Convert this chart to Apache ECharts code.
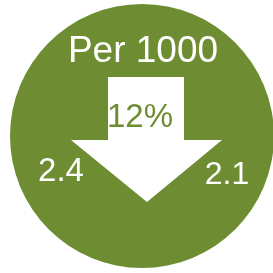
<!DOCTYPE html>
<html>
<head>
<meta charset="utf-8">
<script src="https://cdn.jsdelivr.net/npm/echarts@6/dist/echarts.min.js"></script>
<style>
  html, body { margin: 0; padding: 0; background: #fff; }
  #chart { width: 273px; height: 273px; }
</style>
</head>
<body>
<div id="chart"></div>
<script>
// values shown on the badge
var unitLabel = 'Per 1000';
var changePct = [12];
var rates = [2.4, 2.1];   // before, after

var green = '#6E8D32';
var chart = echarts.init(document.getElementById('chart'));

function label(txt, x, y, size, color) {
    return {
        type: 'text',
        z: 11,
        x: x, y: y,
        style: {
            text: txt, fill: color, align: 'center', verticalAlign: 'middle',
            font: size + 'px "Liberation Sans", Arial, sans-serif'
        }
    };
}

var option = {
    animation: false,
    series: [
        {
            type: 'pie',
            silent: true,
            z: 1,
            center: [142, 136],
            radius: [0, 132],
            label: { show: false },
            itemStyle: { color: green },
            data: [{ value: 1 }]
        }
    ],
    graphic: [
        {
            // down arrow
            type: 'polygon',
            z: 10,
            shape: {
                points: [[108, 77], [184, 77], [184, 140], [222, 140], [147, 202], [71, 140], [108, 140]]
            },
            style: { fill: '#fff' }
        },
        label(unitLabel, 143, 52, 37, '#fff'),
        label(changePct[0] + '%', 140, 118, 33, green),
        label(rates[0].toFixed(1), 61, 172, 33, '#fff'),
        label(rates[1].toFixed(1), 227, 175, 32, '#fff')
    ]
};
chart.setOption(option);
</script>
</body>
</html>
